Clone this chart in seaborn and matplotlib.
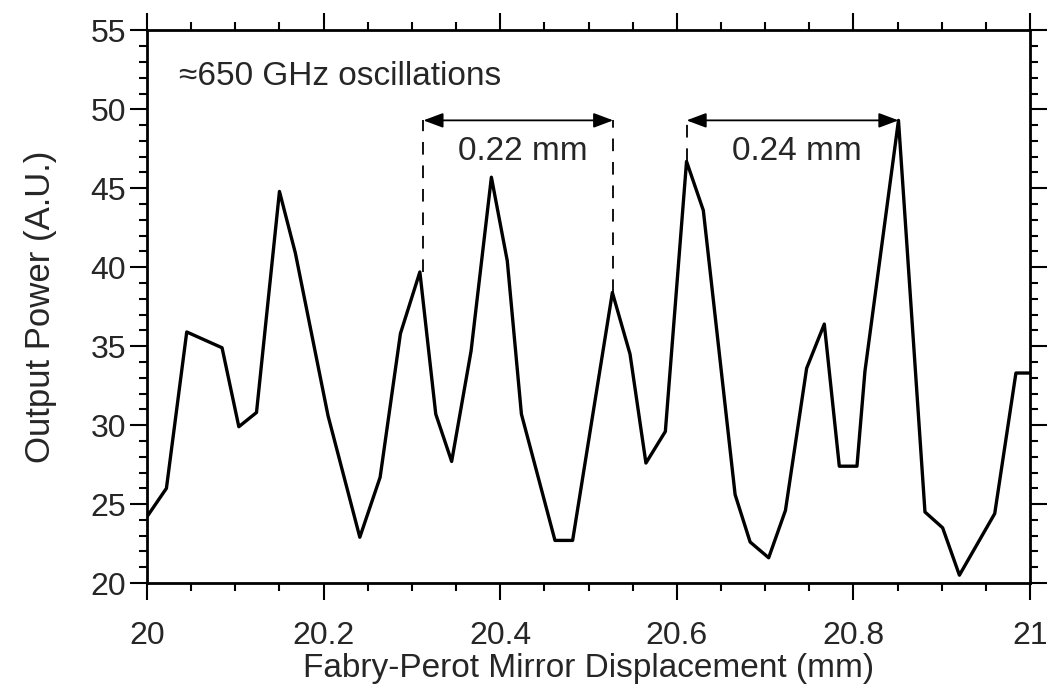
import matplotlib
matplotlib.use("Agg")
import matplotlib.pyplot as plt
from matplotlib.ticker import MultipleLocator
import pandas as pd
import seaborn as sns

# mirror displacement (mm) and output power (A.U.)
displacement = [20.000, 20.022, 20.045, 20.085, 20.104, 20.124, 20.150, 20.168,
                20.205, 20.241, 20.264, 20.287, 20.309, 20.327, 20.345, 20.367,
                20.390, 20.408, 20.424, 20.462, 20.482, 20.527, 20.547, 20.565,
                20.587, 20.611, 20.630, 20.666, 20.683, 20.704, 20.723, 20.747,
                20.767, 20.784, 20.804, 20.813, 20.851, 20.881, 20.901, 20.920,
                20.960, 20.984, 21.000]
power = [24.2, 26.0, 35.9, 34.9, 29.9, 30.8, 44.8, 40.9,
         30.6, 22.9, 26.7, 35.8, 39.7, 30.7, 27.7, 34.7,
         45.7, 40.4, 30.7, 22.7, 22.7, 38.4, 34.5, 27.6,
         29.6, 46.7, 43.6, 25.6, 22.6, 21.6, 24.6, 33.6,
         36.4, 27.4, 27.4, 33.4, 49.3, 24.5, 23.5, 20.5,
         24.4, 33.3, 33.3]

# period markers: (left peak, right peak, label)
spans = [(20.313, 20.528, "0.22 mm"), (20.611, 20.851, "0.24 mm")]
span_tops = [(39.7, 38.4), (46.7, 49.3)]
arrow_level = 49.3

df = pd.DataFrame({"x": displacement, "y": power})

sns.set_style("ticks")
plt.rcParams["font.family"] = ["Liberation Sans", "DejaVu Sans"]

fig, ax = plt.subplots(figsize=(10.5, 6.9), dpi=100)
fig.subplots_adjust(left=0.14, right=0.981, top=0.956, bottom=0.155)

sns.lineplot(data=df, x="x", y="y", color="black", linewidth=2.4, ax=ax)

for (x0, x1, label), (t0, t1) in zip(spans, span_tops):
    ax.plot([x0, x0], [t0, arrow_level], color="black", lw=1.3, ls=(0, (7, 6)))
    ax.plot([x1, x1], [t1, arrow_level], color="black", lw=1.3, ls=(0, (7, 6)))
    ax.annotate("", xy=(x1, arrow_level), xytext=(x0, arrow_level),
                arrowprops=dict(arrowstyle="<|-|>,head_length=1.2,head_width=0.45",
                                color="black", lw=1.3, shrinkA=0, shrinkB=0))
    ax.text((x0 + x1) / 2 + 0.005, arrow_level - 2.0, label, ha="center",
            va="center", fontsize=24)

ax.text(20.036, 52.1, "≈650 GHz oscillations", ha="left", va="center", fontsize=24)

ax.set_xlim(20, 21)
ax.set_ylim(20, 55)
ax.xaxis.set_major_locator(MultipleLocator(0.2))
ax.xaxis.set_minor_locator(MultipleLocator(0.05))
ax.yaxis.set_major_locator(MultipleLocator(5))
ax.yaxis.set_minor_locator(MultipleLocator(1))
ax.set_xticks([20, 20.2, 20.4, 20.6, 20.8, 21])
ax.set_xticklabels(["20", "20.2", "20.4", "20.6", "20.8", "21"])

ax.tick_params(which="both", direction="out", top=True, right=True,
               labeltop=False, labelright=False, color="black", width=1.5)
ax.tick_params(which="major", length=12, labelsize=23)
ax.tick_params(which="minor", length=6)
ax.tick_params(axis="x", which="major", pad=15)
ax.tick_params(axis="y", which="major", pad=3)
for sp in ax.spines.values():
    sp.set_visible(True)
    sp.set_linewidth(2)
    sp.set_color("black")

ax.set_xlabel("Fabry-Perot Mirror Displacement (mm)", fontsize=24, labelpad=2)
ax.set_ylabel("Output Power (A.U.)", fontsize=25, labelpad=24)

fig.savefig("out.png", dpi=100, facecolor="white")
